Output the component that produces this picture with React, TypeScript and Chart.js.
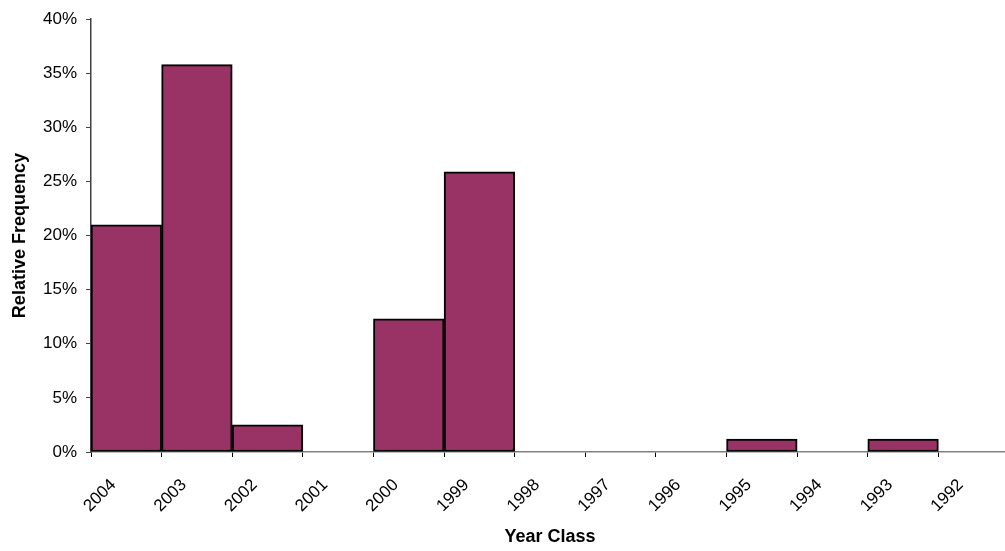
import React, { useEffect, useRef } from "react";
import { Chart, registerables } from "chart.js";

Chart.register(...registerables);

const yearClasses = ["2004", "2003", "2002", "2001", "2000", "1999", "1998", "1997", "1996", "1995", "1994", "1993", "1992"];
const relFrequency = [21.0, 35.8, 2.5, 0, 12.3, 25.9, 0, 0, 0, 1.2, 0, 1.2, 0];
const yTicks = [0, 5, 10, 15, 20, 25, 30, 35, 40];

const FONT = "'Liberation Sans', Arial, sans-serif";

export default function App() {
  const canvasRef = useRef<HTMLCanvasElement | null>(null);

  useEffect(() => {
    document.body.style.margin = "0";
    const canvas = canvasRef.current;
    if (!canvas) return;
    const chart = new Chart(canvas, {
      type: "bar",
      data: {
        labels: yearClasses,
        datasets: [
          {
            data: relFrequency.map((v) => (v === 0 ? null : v)),
            backgroundColor: "#993366",
            borderColor: "#000000",
            borderWidth: 2,
            borderSkipped: false,
            categoryPercentage: 1,
            barPercentage: 1,
          },
        ],
      },
      options: {
        animation: false,
        responsive: false,
        maintainAspectRatio: false,
        layout: { padding: { top: 19, right: 0, left: 0, bottom: 0 } },
        plugins: { legend: { display: false }, tooltip: { enabled: false } },
        scales: {
          x: {
            type: "category",
            offset: true,
            grid: {
              offset: true,
              drawOnChartArea: false,
              drawTicks: true,
              tickLength: 5,
              color: "#000000",
            },
            border: { display: true, color: "#808080", width: 1.5 },
            ticks: {
              minRotation: 45,
              maxRotation: 45,
              autoSkip: false,
              labelOffset: -13,
              padding: 18,
              color: "#000000",
              font: { family: FONT, size: 17 },
            },
            title: {
              display: true,
              text: "Year Class",
              color: "#000000",
              font: { family: FONT, size: 18, weight: "bold" },
              padding: { top: 0, bottom: 3 },
            },
            afterFit: (scale: any) => {
              scale.height = 99;
            },
          },
          y: {
            min: 0,
            max: 40,
            afterBuildTicks: (scale: any) => {
              scale.ticks = yTicks.map((v) => ({ value: v }));
            },
            grid: {
              drawOnChartArea: false,
              drawTicks: true,
              tickLength: 5,
              color: "#404040",
            },
            border: { display: true, color: "#404040", width: 1.5 },
            ticks: {
              padding: 9,
              color: "#000000",
              font: { family: FONT, size: 17 },
              callback: (v: any) => `${v}%`,
            },
            title: {
              display: true,
              text: "Relative Frequency",
              color: "#000000",
              font: { family: FONT, size: 18, weight: "bold" },
              padding: { top: 9, bottom: 0 },
            },
            afterFit: (scale: any) => {
              scale.width = 91;
            },
          },
        },
      },
    });
    return () => chart.destroy();
  }, []);

  return (
    <div style={{ width: 1005, height: 551, position: "relative", overflow: "hidden" }}>
      <canvas ref={canvasRef} width={1009} height={551} style={{ width: 1009, height: 551, display: "block" }} />
    </div>
  );
}
